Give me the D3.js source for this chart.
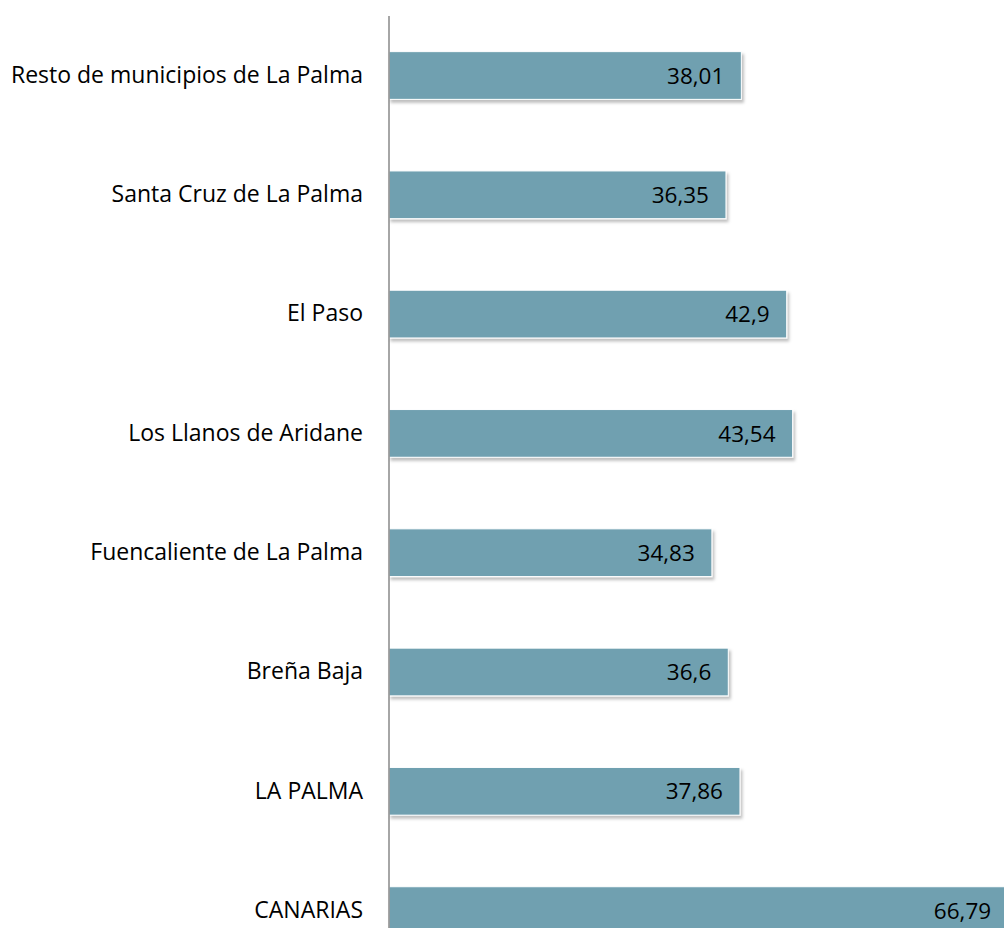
<!DOCTYPE html>
<html>
<head>
<meta charset="utf-8">
<script src="https://cdn.jsdelivr.net/npm/d3@7"></script>
<style>
  body { margin: 0; background: #fff; }
  svg { display: block; }
  .label { font-family: "Open Sans", sans-serif; font-size: 23px; fill: #000; }
  .val { font-family: "Open Sans", sans-serif; font-size: 22.5px; fill: #000; }
</style>
</head>
<body>
<div id="vis"></div>
<script>
const FRAME_WIDTH = 1004;
const FRAME_HEIGHT = 928;
const MARGINS = {left: 389, top: 16};

const categories = ["Resto de municipios de La Palma", "Santa Cruz de La Palma", "El Paso",
  "Los Llanos de Aridane", "Fuencaliente de La Palma", "Breña Baja", "LA PALMA", "CANARIAS"];
const values = [38.01, 36.35, 42.9, 43.54, 34.83, 36.6, 37.86, 66.79];

const FRAME1 = d3.select("#vis")
  .append("svg")
    .attr("width", FRAME_WIDTH)
    .attr("height", FRAME_HEIGHT);

// soft shadow under each bar
const filter = FRAME1.append("defs").append("filter")
  .attr("id", "shadow").attr("x", "-5%").attr("y", "-20%")
  .attr("width", "110%").attr("height", "150%");
filter.append("feDropShadow")
  .attr("dx", 2).attr("dy", 3).attr("stdDeviation", 1.5)
  .attr("flood-color", "#000").attr("flood-opacity", 0.25);

const X_SCALE = d3.scaleLinear()
  .domain([0, 1])
  .range([0, 9.27]);

// band centres 119.3px apart, first centre at 75.5
const Y_SCALE = d3.scaleBand()
  .domain(categories)
  .range([75.5 - 59.65 - MARGINS.top, 75.5 - 59.65 - MARGINS.top + 119.3 * categories.length])
  .paddingInner(0.6)
  .paddingOuter(0.3);

const g = FRAME1.append("g")
  .attr("transform", "translate(" + MARGINS.left + "," + MARGINS.top + ")");

g.selectAll(".bar")
  .data(values)
  .enter()
  .append("rect")
    .attr("x", 0)
    .attr("y", (d, i) => Y_SCALE(categories[i]))
    .attr("width", (d) => X_SCALE(d))
    .attr("height", Y_SCALE.bandwidth())
    .attr("fill", "#6fa0b0")
    .attr("stroke", "#fff")
    .attr("stroke-width", 1)
    .attr("filter", "url(#shadow)");

g.selectAll(".val")
  .data(values)
  .enter()
  .append("text")
    .attr("class", "val")
    .attr("x", (d) => X_SCALE(d) - 17)
    .attr("y", (d, i) => Y_SCALE(categories[i]) + Y_SCALE.bandwidth() / 2)
    .attr("dy", "0.36em")
    .attr("text-anchor", "end")
    .text((d) => String(d).replace(".", ","));

// category axis
const axis = g.append("g")
  .call(d3.axisLeft(Y_SCALE).tickSize(0).tickPadding(26));
axis.select(".domain")
  .attr("d", "M0,0V" + (FRAME_HEIGHT - MARGINS.top))
  .attr("stroke", "#888")
  .attr("stroke-width", 1.5);
axis.selectAll("text")
  .attr("class", "label")
  .attr("font-family", null)
  .attr("font-size", null);
</script>
</body>
</html>
